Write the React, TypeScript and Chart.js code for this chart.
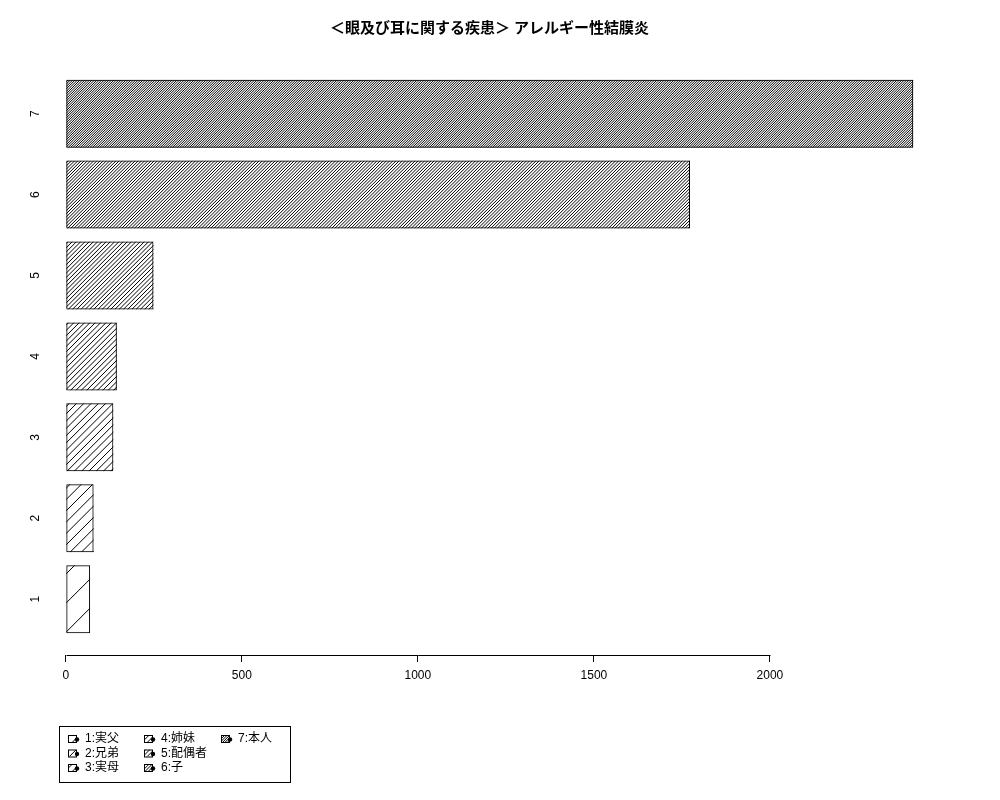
import { useEffect, useRef } from "react"
import { Chart, registerables } from "chart.js"

Chart.register(...registerables)

// family members (category 1..7) and their counts
const categories = [1, 2, 3, 4, 5, 6, 7]
const counts = [69, 79, 135, 145, 249, 1773, 2407]
const legendLabels = ["1:実父", "2:兄弟", "3:実母", "4:姉妹", "5:配偶者", "6:子", "7:本人"]
const xTicks = [0, 500, 1000, 1500, 2000]
const chartTitle = "＜眼及び耳に関する疾患＞ アレルギー性結膜炎"

// hatch lines per inch (R style density)
const hatchDensity = [3.5, 9, 14, 19, 24, 32, 42]

const FONT = "'Liberation Sans', 'Noto Sans CJK JP', sans-serif"

function hatchRect(ctx: CanvasRenderingContext2D, x0: number, y0: number, x1: number, y1: number, density: number) {
  const step = (72 / density) * Math.SQRT2
  ctx.save()
  ctx.beginPath()
  ctx.rect(x0, y0, x1 - x0, y1 - y0)
  ctx.clip()
  ctx.beginPath()
  const start = Math.floor((x0 + y0) / step) * step
  for (let c = start; c <= x1 + y1 + step; c += step) {
    ctx.moveTo(c - y1, y1)
    ctx.lineTo(c - y0, y0)
  }
  ctx.strokeStyle = "#000"
  ctx.lineWidth = 1
  ctx.stroke()
  ctx.restore()
}

const decorPlugin = {
  id: "decor",
  beforeDatasetsDraw(chart: any) {
    const ctx = chart.ctx
    const meta = chart.getDatasetMeta(0)
    meta.data.forEach((bar: any, i: number) => {
      const { x, y, base, height } = bar.getProps(["x", "y", "base", "height"], true)
      hatchRect(ctx, Math.min(x, base), y - height / 2, Math.max(x, base), y + height / 2, hatchDensity[i])
    })
  },
  afterDraw(chart: any) {
    const { ctx, chartArea, scales } = chart
    const xs = scales.x
    const ys = scales.y
    ctx.save()

    // x axis line, only across the labelled ticks
    ctx.strokeStyle = "#000"
    ctx.lineWidth = 1
    const axisY = Math.round(chartArea.bottom) + 0.5
    ctx.beginPath()
    ctx.moveTo(Math.round(xs.getPixelForValue(xTicks[0])) + 0.5, axisY)
    ctx.lineTo(Math.round(xs.getPixelForValue(xTicks[xTicks.length - 1])) + 0.5, axisY)
    ctx.stroke()

    // y category labels, rotated
    ctx.fillStyle = "#000"
    ctx.font = `12px ${FONT}`
    ctx.textAlign = "center"
    ctx.textBaseline = "middle"
    categories.forEach((c) => {
      ctx.save()
      ctx.translate(36, ys.getPixelForValue(c))
      ctx.rotate(-Math.PI / 2)
      ctx.fillText(String(c), 0, 0)
      ctx.restore()
    })

    // title
    ctx.font = `bold 15px ${FONT}`
    ctx.fillText(chartTitle, (chartArea.left + chartArea.right) / 2, 29)

    // legend
    ctx.strokeRect(59.5, 726.5, 231, 56)
    const colText = [85, 161, 238]
    const rowY = [739, 753.5, 768]
    ctx.font = `12px ${FONT}`
    ctx.textAlign = "left"
    legendLabels.forEach((label, i) => {
      const col = Math.floor(i / 3)
      const row = i % 3
      const tx = colText[col]
      const ty = rowY[row]
      const sx = tx - 17
      hatchRect(ctx, sx, ty - 4, sx + 8, ty + 3, hatchDensity[i])
      ctx.strokeRect(sx + 0.5, ty - 3.5, 8, 7)
      ctx.beginPath()
      ctx.arc(sx + 9, ty + 0.5, 2.2, 0, Math.PI * 2)
      ctx.fill()
      ctx.fillText(label, tx, ty)
    })
    ctx.restore()
  },
}

export default function App() {
  const chartRef = useRef<HTMLCanvasElement>(null)
  const chartInstance = useRef<Chart | null>(null)

  useEffect(() => {
    if (!chartRef.current) return
    if (chartInstance.current) chartInstance.current.destroy()

    const ctx = chartRef.current.getContext("2d")
    if (!ctx) return

    chartInstance.current = new Chart(ctx, {
      type: "bar",
      data: {
        datasets: [
          {
            data: categories.map((c, i) => ({ x: counts[i], y: c })),
            backgroundColor: "rgba(0,0,0,0)",
            borderColor: "#000",
            borderWidth: 1,
            borderSkipped: false,
            barPercentage: 0.84,
            categoryPercentage: 1,
          },
        ],
      },
      options: {
        indexAxis: "y",
        animation: false,
        responsive: true,
        maintainAspectRatio: false,
        layout: { padding: { top: 53, left: 32, right: 53, bottom: 115 } },
        plugins: {
          legend: { display: false },
          title: { display: false },
          tooltip: { enabled: false },
        },
        scales: {
          x: {
            type: "linear",
            position: "bottom",
            min: -96,
            max: 2503,
            afterBuildTicks: (s: any) => {
              s.ticks = xTicks.map((v) => ({ value: v }))
            },
            afterFit: (s: any) => {
              s.height = 30
            },
            border: { display: false },
            grid: { drawOnChartArea: false, drawTicks: true, tickLength: 7, color: "#000", lineWidth: 1 },
            ticks: {
              color: "#000",
              padding: 6,
              autoSkip: false,
              maxRotation: 0,
              font: { family: FONT, size: 12 },
              callback: (v: any) => String(v),
            },
          },
          y: {
            type: "linear",
            offset: false,
            min: 0.31,
            max: 7.75,
            display: false,
            grid: { offset: false },
            ticks: { stepSize: 1, includeBounds: false },
            afterBuildTicks: (s: any) => {
              s.ticks = categories.map((v) => ({ value: v }))
            },
          },
        },
      },
      plugins: [decorPlugin],
    } as any)

    return () => {
      if (chartInstance.current) {
        chartInstance.current.destroy()
        chartInstance.current = null
      }
    }
  }, [])

  return (
    <div style={{ position: "absolute", left: 0, top: 0, width: 1000, height: 800, background: "#fff" }}>
      <canvas ref={chartRef} />
    </div>
  )
}
